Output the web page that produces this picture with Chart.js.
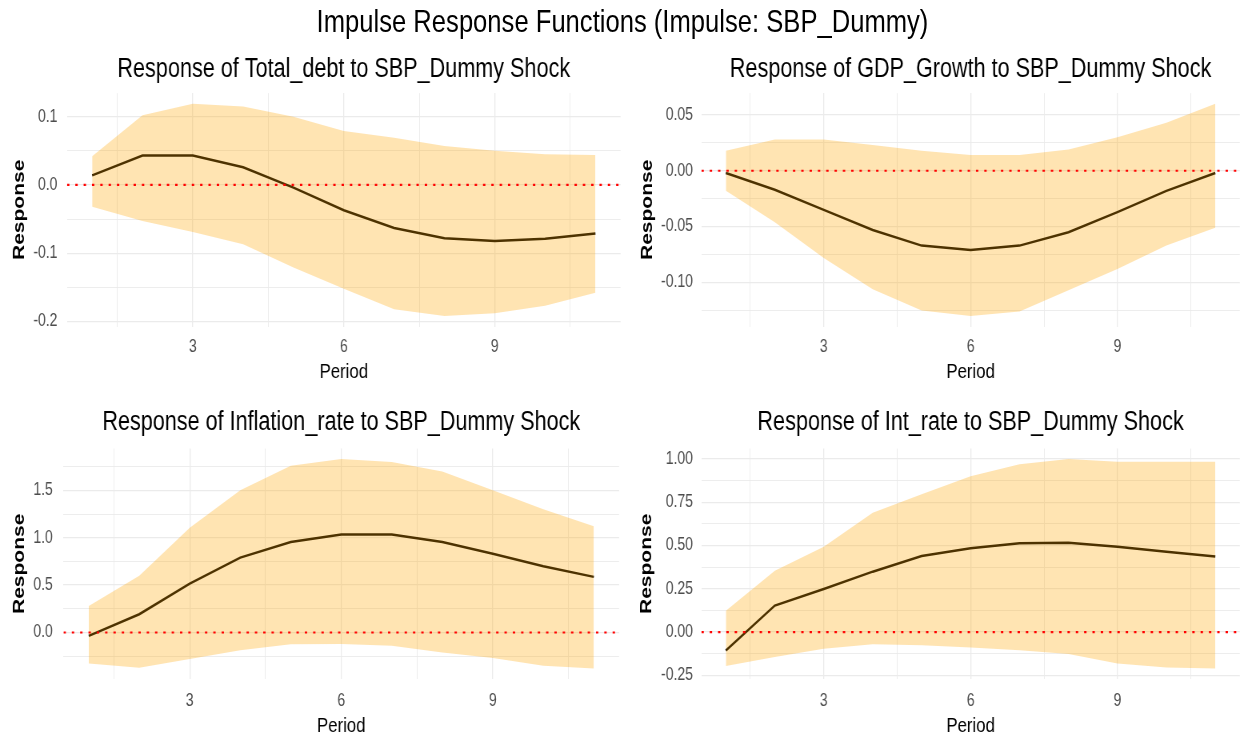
<!DOCTYPE html>
<html>
<head>
<meta charset="utf-8">
<script src="https://cdn.jsdelivr.net/npm/chart.js@4.4.0/dist/chart.umd.min.js"></script>
<style>
  html, body { margin: 0; padding: 0; background: #fff; overflow: hidden; }
  /* whole figure is drawn wide and squeezed horizontally, like the reference */
  #page { position: absolute; left: 0; top: 0; width: 1556.25px; height: 742px;
          transform: scaleX(0.8); transform-origin: 0 0; }
  #title { position: absolute; left: 0; top: 0; width: 100%; text-align: center;
           font: 32px 'Liberation Sans', Arial, sans-serif; line-height: 43px; color: #000; }
  canvas { position: absolute; }
</style>
</head>
<body>
<div id="page">
  <div id="title">Impulse Response Functions (Impulse: SBP_Dummy)</div>
  <canvas id="c1"></canvas>
  <canvas id="c2"></canvas>
  <canvas id="c3"></canvas>
  <canvas id="c4"></canvas>
</div>
<script>
const periods = [1, 2, 3, 4, 5, 6, 7, 8, 9, 10, 11];

const debtIrf   = [0.014, 0.043, 0.043, 0.026, -0.004, -0.037, -0.063, -0.078, -0.082, -0.079, -0.071];
const debtLower = [-0.032, -0.053, -0.069, -0.087, -0.121, -0.152, -0.182, -0.192, -0.188, -0.177, -0.158];
const debtUpper = [0.042, 0.102, 0.119, 0.115, 0.100, 0.079, 0.069, 0.057, 0.050, 0.045, 0.044];

const gdpIrf   = [-0.002, -0.017, -0.035, -0.053, -0.067, -0.071, -0.067, -0.055, -0.037, -0.018, -0.002];
const gdpLower = [-0.018, -0.046, -0.078, -0.106, -0.125, -0.130, -0.126, -0.107, -0.088, -0.067, -0.051];
const gdpUpper = [0.018, 0.028, 0.028, 0.023, 0.018, 0.014, 0.014, 0.019, 0.030, 0.043, 0.060];

const inflIrf   = [-0.035, 0.193, 0.516, 0.79, 0.955, 1.033, 1.033, 0.955, 0.83, 0.70, 0.587];
const inflLower = [-0.327, -0.372, -0.28, -0.186, -0.123, -0.12, -0.14, -0.21, -0.27, -0.35, -0.38];
const inflUpper = [0.28, 0.60, 1.106, 1.50, 1.76, 1.83, 1.80, 1.70, 1.50, 1.30, 1.12];

const intIrf   = [-0.107, 0.153, 0.249, 0.349, 0.439, 0.485, 0.514, 0.516, 0.493, 0.464, 0.437];
const intLower = [-0.197, -0.144, -0.096, -0.071, -0.077, -0.09, -0.105, -0.127, -0.182, -0.205, -0.211];
const intUpper = [0.123, 0.355, 0.493, 0.69, 0.797, 0.90, 0.97, 1.00, 0.985, 0.985, 0.985];

const xMajor = [3, 6, 9];

Chart.defaults.font.family = "'Liberation Sans', Arial, sans-serif";
Chart.defaults.animation = false;

const GRID = '#EBEBEB';
const BAND = 'rgba(255,165,0,0.3)';

function pts(ys) {
  return periods.map((p, i) => ({x: p, y: ys[i]}));
}

function panel(id, sub, irf, lower, upper, step, dec, lay) {
  const cv = document.getElementById(id);
  cv.width = lay.w; cv.height = lay.h;
  cv.style.left = lay.left + 'px'; cv.style.top = lay.top + 'px';

  // ggplot-like 5% expansion of the y range
  const all = lower.concat(upper, irf, [0]);
  const lo = Math.min(...all), hi = Math.max(...all);
  const pad = (hi - lo) * 0.05;
  const half = step / 2;

  new Chart(cv, {
    type: 'line',
    data: {
      datasets: [
        {data: [{x: 0.5, y: 0}, {x: 11.5, y: 0}], borderColor: '#FF0000', borderWidth: 2.2,
         borderDash: [3, 7.4], borderCapStyle: 'butt', pointRadius: 0, order: 0},
        {data: pts(upper), borderWidth: 0, borderColor: 'transparent', pointRadius: 0,
         fill: '+1', backgroundColor: BAND, order: 1},
        {data: pts(lower), borderWidth: 0, borderColor: 'transparent', pointRadius: 0,
         fill: false, order: 1},
        {data: pts(irf), borderColor: '#000', borderWidth: 2.5, pointRadius: 0,
         fill: false, tension: 0, order: 2}
      ]
    },
    options: {
      responsive: false,
      devicePixelRatio: 1,
      layout: {padding: {left: 0, right: lay.pr, top: 0, bottom: 0}},
      plugins: {
        legend: {display: false},
        tooltip: {enabled: false},
        title: {display: true, text: sub, fullSize: false, color: '#000',
                font: {size: 27, weight: 'normal', lineHeight: 1.2},
                padding: {top: lay.tt, bottom: lay.tb}}
      },
      scales: {
        x: {
          type: 'linear', min: 0.5, max: 11.5,
          afterBuildTicks: s => {
            s.ticks = [];
            for (let i = 1; i <= 7; i++) {
              const v = i * 1.5;
              s.ticks.push({value: v, lab: xMajor.includes(v) ? String(v) : ''});
            }
          },
          afterFit: s => { s.height = lay.xh; },
          ticks: {autoSkip: false, maxRotation: 0, color: '#4D4D4D', padding: lay.xp,
                  font: {size: 17.5}, callback: (v, i, t) => t[i].lab},
          grid: {drawTicks: false, color: GRID,
                 lineWidth: c => (c.tick && c.tick.lab) ? 1.3 : 0.9},
          border: {display: false},
          title: {display: true, text: 'Period', color: '#000', font: {size: 21},
                  padding: {top: 0, bottom: lay.xtb}}
        },
        y: {
          min: lo - pad, max: hi + pad,
          afterBuildTicks: s => {
            s.ticks = [];
            for (let i = Math.ceil(s.min / half); i <= Math.floor(s.max / half); i++) {
              const v = i * half;
              s.ticks.push({value: v, lab: i % 2 === 0 ? (Math.abs(v) < 1e-9 ? 0 : v).toFixed(dec) : ''});
            }
          },
          afterFit: s => { s.width = lay.yw; },
          ticks: {autoSkip: false, color: '#4D4D4D', padding: lay.yp,
                  font: {size: 17.5}, callback: (v, i, t) => t[i].lab},
          grid: {drawTicks: false, color: GRID,
                 lineWidth: c => (c.tick && c.tick.lab) ? 1.3 : 0.9},
          border: {display: false},
          title: {display: true, text: 'Response', color: '#000',
                  font: {size: 21, weight: 'bold'}, padding: {top: lay.ytp, bottom: 0}}
        }
      }
    }
  });
}

const SX = 0.8;
const topRow = {top: 45, h: 345, tt: 8.1, tb: 7.6, xh: 63.4, xp: 10.1, xtb: 4.7};
const botRow = {top: 395, h: 347, tt: 11.1, tb: 10.1, xh: 63, xp: 12.1, xtb: 2.7};

panel('c1', 'Response of Total_debt to SBP_Dummy Shock', debtIrf, debtLower, debtUpper, 0.1, 1,
  Object.assign({left: 0, w: 622 / SX, yw: 67 / SX, pr: 1 / SX, yp: 11.9, ytp: 11.2}, topRow));
panel('c2', 'Response of GDP_Growth to SBP_Dummy Shock', gdpIrf, gdpLower, gdpUpper, 0.05, 2,
  Object.assign({left: 622 / SX, w: 623 / SX, yw: 79 / SX, pr: 5 / SX, yp: 10.5, ytp: 18.7}, topRow));
panel('c3', 'Response of Inflation_rate to SBP_Dummy Shock', inflIrf, inflLower, inflUpper, 0.5, 1,
  Object.assign({left: 0, w: 622 / SX, yw: 63.5 / SX, pr: 2.5 / SX, yp: 13.4, ytp: 11.8}, botRow));
panel('c4', 'Response of Int_rate to SBP_Dummy Shock', intIrf, intLower, intUpper, 0.25, 2,
  Object.assign({left: 622 / SX, w: 623 / SX, yw: 79 / SX, pr: 5 / SX, yp: 10.5, ytp: 18.0}, botRow));
</script>
</body>
</html>
